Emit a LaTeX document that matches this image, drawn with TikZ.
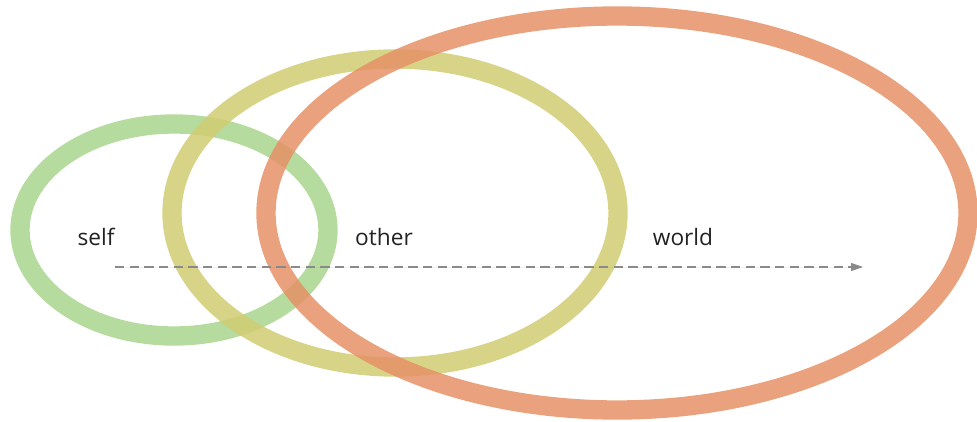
\documentclass[tikz,border=0pt]{standalone}
\usepackage{fontspec}
\setmainfont{Open Sans}
\usetikzlibrary{arrows.meta,shapes.geometric}
\definecolor{selfgreen}{HTML}{A8D58D}
\definecolor{otheryellow}{HTML}{D1CC72}
\definecolor{worldorange}{HTML}{E59266}
\definecolor{ink}{HTML}{222222}
\definecolor{axisgray}{HTML}{8A8A8A}

\begin{document}
\begin{tikzpicture}[
  x=0.75pt, y=-0.75pt,
  ring/.style={ellipse, draw, line width=14.5pt, draw opacity=0.85,
    inner sep=0pt, outer sep=0pt},
  word/.style={font=\fontsize{17}{20}\selectfont, text=ink, inner sep=0pt},
  axis/.style={-{Triangle[length=9pt, width=6pt]}, draw=axisgray, fill=axisgray,
    line width=0.8pt, dash pattern=on 7pt off 4pt}
]
\useasboundingbox (0,0) rectangle (977,421);

% rings
\node[ring, draw=selfgreen, minimum width=231pt, minimum height=159pt]
  (selfring) at (174,230) {};
\node[ring, draw=otheryellow, minimum width=334.5pt, minimum height=231pt]
  (otherring) at (395,213) {};
\node[ring, draw=worldorange, minimum width=526.5pt, minimum height=295.5pt]
  (worldring) at (617,213) {};

% labels
\node[word] (selflabel) at (96,237) {self};
\node[word] (otherlabel) at (384,237) {other};
\node[word] (worldlabel) at (683,237) {world};

% axis
\coordinate (axisstart) at (115,267);
\coordinate (axisend) at (863,267);
\draw[axis] (axisstart) -- (axisend);

\end{tikzpicture}
\end{document}
